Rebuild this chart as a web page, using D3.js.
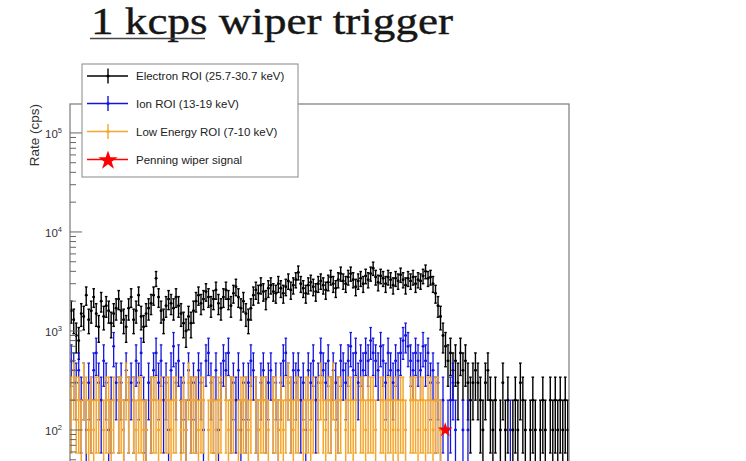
<!DOCTYPE html>
<html>
<head>
<meta charset="utf-8">
<script src="https://cdn.jsdelivr.net/npm/d3@7"></script>
<style>
  html, body { margin: 0; padding: 0; background: #ffffff; }
  svg { display: block; }
</style>
</head>
<body>
<div id="chart"></div>
<script>
// ---------------- data (rates in cps, 200 time bins) ----------------
const titleMain = "1 kcps wiper trigger";
const titleUnderlined = "1 kcps";
const yAxisTitle = "Rate (cps)";
const yTickValues = [100, 1000, 10000, 100000];
const yTickExponents = ["2", "3", "4", "5"];
const binDuration = 0.01; // s per bin

const electron = [
  1600, 1300, 900, 800, 1500, 1400, 2300, 1300, 1600, 2200,
  1500, 1100, 2000, 1400, 1800, 1600, 1200, 1500, 1700, 2100,
  1600, 1300, 1100, 1700, 2200, 1300, 1600, 2300, 1400, 1100,
  1500, 1700, 1900, 2300, 3400, 2200, 1600, 1300, 1800, 2100,
  1900, 1700, 2200, 1800, 1500, 1200, 1000, 1400, 1200, 1600,
  2000, 2300, 1900, 2100, 2500, 2200, 1800, 2100, 2600, 1900,
  1700, 2200, 2600, 2100, 1800, 2400, 2800, 2200, 1700, 2000,
  1500, 1300, 1700, 2300, 2600, 2400, 2900, 2500, 2100, 2700,
  2900, 2500, 2400, 3000, 2700, 2400, 2800, 3200, 2600, 2900,
  3300, 3900, 3000, 2700, 2400, 2900, 3100, 2800, 2500, 3000,
  3200, 2900, 2600, 3100, 3500, 3000, 2700, 3300, 3800, 3200,
  3000, 3500, 3800, 3300, 2800, 3200, 3400, 3000, 3600, 3300,
  3800, 4300, 3500, 3100, 3600, 3400, 3000, 3500, 3300, 2900,
  3400, 3200, 3700, 3300, 2900, 3400, 3200, 3500, 3000, 3300,
  3200, 3600, 4000, 3400, 3500, 3000, 2400, 1800, 1400, 900,
  700, 500, 600, 400, 500, 300, 600, 400, 500, 300,
  200, 300, 400, 300, 200, 100, 300, 400, 200, 100,
  200, 0, 100, 300, 100, 200, 0, 100, 200, 100,
  300, 200, 100, 0, 100, 200, 100, 0, 100, 200,
  100, 0, 200, 100, 200, 100, 200, 100, 200, 100
];

const ion = [
  500, 400, 300, 400, 200, 300, 100, 300, 200, 400,
  600, 300, 200, 500, 300, 100, 200, 700, 300, 200,
  300, 100, 400, 200, 300, 200, 500, 300, 600, 200,
  100, 300, 200, 400, 600, 300, 500, 200, 300, 100,
  400, 700, 300, 500, 200, 300, 100, 400, 200, 300,
  200, 400, 300, 100, 500, 600, 300, 200, 400, 100,
  300, 500, 400, 600, 200, 300, 200, 400, 100, 300,
  200, 300, 500, 400, 200, 100, 300, 400, 200, 300,
  400, 200, 300, 100, 300, 500, 600, 300, 200, 400,
  300, 400, 200, 300, 100, 400, 300, 500, 200, 300,
  600, 400, 300, 500, 200, 400, 300, 200, 500, 400,
  300, 500, 700, 400, 600, 300, 500, 400, 600, 500,
  800, 600, 500, 400, 700, 500, 300, 600, 400, 300,
  500, 400, 600, 800, 900, 700, 500, 400, 600, 500,
  400, 700, 500, 600, 300, 400, 200, 300, 100, 200,
  0, 100, 200, 300, 100, 0, 0, 100, 0, 100,
  0, 0, 0, 0, 0, 0, 0, 0, 0, 0,
  0, 0, 0, 0, 0, 0, 100, 0, 0, 0,
  0, 0, 0, 0, 0, 0, 0, 0, 0, 0,
  0, 0, 0, 0, 0, 0, 0, 0, 0, 0
];

const lowEnergy = [
  200, 300, 200, 200, 100, 300, 200, 100, 200, 100,
  200, 200, 0, 100, 200, 200, 100, 200, 0, 200,
  200, 100, 300, 200, 0, 200, 100, 200, 200, 100,
  100, 0, 200, 200, 200, 100, 200, 0, 200, 200,
  100, 200, 200, 0, 100, 200, 100, 300, 200, 200,
  200, 100, 200, 200, 0, 100, 200, 200, 100, 200,
  200, 0, 200, 100, 200, 200, 0, 100, 200, 200,
  200, 100, 200, 0, 200, 100, 200, 200, 200, 100,
  0, 200, 200, 100, 200, 100, 200, 300, 200, 100,
  200, 200, 0, 100, 200, 200, 100, 200, 0, 200,
  300, 200, 100, 200, 200, 300, 100, 200, 200, 0,
  100, 200, 200, 100, 200, 0, 200, 200, 100, 200,
  200, 200, 100, 0, 200, 200, 100, 200, 200, 100,
  200, 100, 200, 200, 100, 0, 200, 200, 200, 100,
  200, 200, 100, 200, 200, 100, 200, 200, 100, 0,
  0, 0, 0, 0, 0, 0, 0, 0, 0, 0,
  0, 0, 0, 0, 0, 0, 0, 0, 0, 0,
  0, 0, 0, 0, 0, 0, 0, 0, 0, 0,
  0, 0, 0, 0, 0, 0, 0, 0, 0, 0,
  0, 0, 0, 0, 0, 0, 0, 0, 0, 0
];

const penningBin = [150.4];
const penningRate = [100];

const seriesNames = ["Electron ROI (25.7-30.7 keV)", "Ion ROI (13-19 keV)", "Low Energy ROI (7-10 keV)", "Penning wiper signal"];
const seriesColors = ["#000000", "#1414e0", "#f4a52c", "#ff0000"];
const seriesWidths = [1.4, 1.3, 1.5];

// ---------------- layout ----------------
const W = 746, H = 461;
const frame = { left: 70, right: 569, top: 104, bottom: 529 };

const svg = d3.select("#chart").append("svg")
  .attr("width", W).attr("height", H)
  .attr("viewBox", `0 0 ${W} ${H}`);

const x = d3.scaleLinear().domain([0, electron.length]).range([frame.left, frame.right]);
const y = d3.scaleLog().domain([10, 196000]).range([frame.bottom, frame.top]);

// title
svg.append("text")
  .attr("x", 91).attr("y", 34)
  .attr("font-family", "'Liberation Serif', 'DejaVu Serif', serif")
  .attr("font-size", 38)
  .attr("fill", "#161616")
  .attr("stroke", "#161616")
  .attr("stroke-width", 0.4)
  .attr("textLength", 362)
  .attr("lengthAdjust", "spacingAndGlyphs")
  .text(titleMain);
svg.append("line")
  .attr("x1", 90).attr("x2", 205).attr("y1", 38.5).attr("y2", 38.5)
  .attr("stroke", "#444").attr("stroke-width", 1.6);

// clip
svg.append("defs").append("clipPath").attr("id", "plotclip")
  .append("rect")
  .attr("x", frame.left).attr("y", frame.top)
  .attr("width", frame.right - frame.left).attr("height", frame.bottom - frame.top);

const plot = svg.append("g").attr("clip-path", "url(#plotclip)");

function drawSeries(values, color, sw) {
  const pts = values.map((v, i) => ({ i, v, e: Math.sqrt(v * binDuration) / binDuration }))
    .filter(d => d.v > 0);
  const g = plot.append("g").attr("stroke", color).attr("fill", color).attr("stroke-width", sw);
  pts.forEach(d => {
    const xc = x(d.i + 0.5);
    const yTop = y(d.v + d.e);
    const lo = d.v - d.e;
    const yBot = lo > 0 ? y(lo) : frame.bottom + 5;
    g.append("line").attr("x1", xc).attr("x2", xc).attr("y1", yTop).attr("y2", yBot);
    g.append("line").attr("x1", x(d.i)).attr("x2", x(d.i + 1)).attr("y1", y(d.v)).attr("y2", y(d.v));
    g.append("line").attr("x1", xc - 1.3).attr("x2", xc + 1.3).attr("y1", yTop).attr("y2", yTop);
    if (lo > 0) g.append("line").attr("x1", xc - 1.3).attr("x2", xc + 1.3).attr("y1", yBot).attr("y2", yBot);
    g.append("circle").attr("cx", xc).attr("cy", y(d.v)).attr("r", 1.4).attr("stroke", "none");
  });
}

drawSeries(electron, seriesColors[0], seriesWidths[0]);
drawSeries(ion, seriesColors[1], seriesWidths[1]);
drawSeries(lowEnergy, seriesColors[2], seriesWidths[2]);

// penning star
const starBig = d3.symbol().type(d3.symbolStar).size(66);
plot.selectAll("path.star").data(penningBin.map((b, k) => ({ b, r: penningRate[k] })))
  .join("path")
  .attr("d", starBig)
  .attr("transform", d => `translate(${x(d.b)},${y(d.r)})`)
  .attr("fill", seriesColors[3]);

// frame
svg.append("rect")
  .attr("x", frame.left).attr("y", frame.top)
  .attr("width", frame.right - frame.left).attr("height", frame.bottom - frame.top)
  .attr("fill", "none").attr("stroke", "#7a7a7a").attr("stroke-width", 1.2);

// y ticks (inside, ROOT style)
const axisG = svg.append("g").attr("stroke", "#666").attr("stroke-width", 1);
const minorTicks = [];
for (let p = 1; p <= 5; p++) {
  for (let m = 2; m <= 9; m++) {
    const v = m * Math.pow(10, p);
    if (v <= 196000) minorTicks.push(v);
  }
}
axisG.selectAll("line.minor").data(minorTicks).join("line")
  .attr("x1", frame.left).attr("x2", frame.left + 6)
  .attr("y1", d => y(d)).attr("y2", d => y(d));
axisG.selectAll("line.major").data(yTickValues).join("line")
  .attr("x1", frame.left).attr("x2", frame.left + 12)
  .attr("y1", d => y(d)).attr("y2", d => y(d));

const lab = svg.append("g")
  .attr("font-family", "'Liberation Sans', Arial, sans-serif")
  .attr("fill", "#333");
yTickValues.forEach((v, k) => {
  const t = lab.append("text")
    .attr("x", 62).attr("y", y(v) + 5)
    .attr("text-anchor", "end")
    .attr("font-size", 11.5);
  t.append("tspan").text("10");
  t.append("tspan").attr("dy", -5).attr("font-size", 7.5).text(yTickExponents[k]);
});

svg.append("text")
  .attr("transform", `translate(39,${frame.top}) rotate(-90)`)
  .attr("text-anchor", "end")
  .attr("font-family", "'Liberation Sans', Arial, sans-serif")
  .attr("font-size", 13.5)
  .attr("fill", "#333")
  .text(yAxisTitle);

// legend
const legend = svg.append("g");
legend.append("rect")
  .attr("x", 82).attr("y", 64).attr("width", 216).attr("height", 113)
  .attr("fill", "#fff").attr("stroke", "#888").attr("stroke-width", 1);
const entryY = [76, 103.5, 131.5, 159.5];
seriesNames.forEach((name, k) => {
  const cy = entryY[k];
  const c = seriesColors[k];
  legend.append("line").attr("x1", 87).attr("x2", 128).attr("y1", cy).attr("y2", cy)
    .attr("stroke", c).attr("stroke-width", 1.4);
  if (k < 3) {
    legend.append("line").attr("x1", 108).attr("x2", 108).attr("y1", cy - 7.5).attr("y2", cy + 7.5)
      .attr("stroke", c).attr("stroke-width", 1.4);
    legend.append("circle").attr("cx", 108).attr("cy", cy).attr("r", 1.6).attr("fill", c);
  } else {
    legend.append("path").attr("d", d3.symbol().type(d3.symbolStar).size(115))
      .attr("transform", `translate(108,${cy + 1})`).attr("fill", c);
  }
  legend.append("text")
    .attr("x", 136).attr("y", cy + 4)
    .attr("font-family", "'Liberation Sans', Arial, sans-serif")
    .attr("font-size", 11.5)
    .attr("fill", "#222")
    .text(name);
});
</script>
</body>
</html>
